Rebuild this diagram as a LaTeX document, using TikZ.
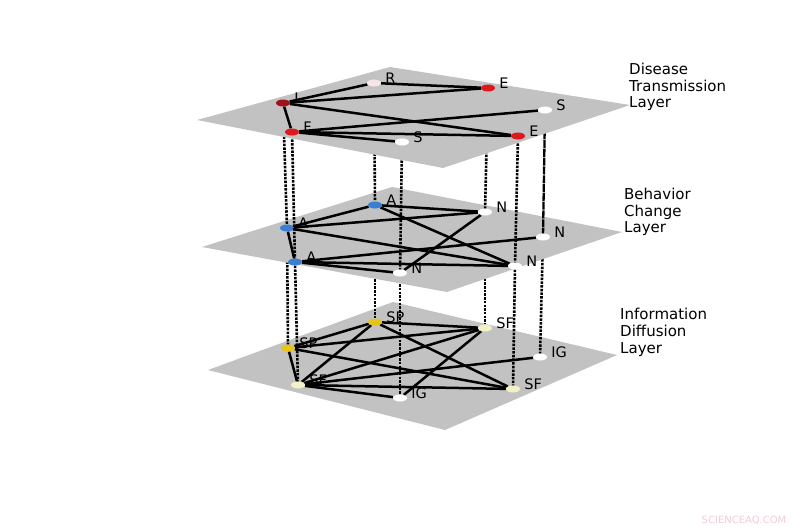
\documentclass[tikz,border=0pt]{standalone}
\usepackage{fontspec}
\setmainfont{DejaVu Sans}
\usetikzlibrary{shapes.geometric}
\definecolor{planegray}{RGB}{194,194,194}
\definecolor{nred}{RGB}{222,24,28}
\definecolor{ndred}{RGB}{160,18,26}
\definecolor{npink}{RGB}{246,230,230}
\definecolor{nblue}{RGB}{58,128,210}
\definecolor{nyellow}{RGB}{232,195,28}
\definecolor{ncream}{RGB}{244,240,200}
\definecolor{wmark}{RGB}{240,205,215}
\pgfdeclarelayer{P1}\pgfdeclarelayer{E1}\pgfdeclarelayer{N1}\pgfdeclarelayer{V12}
\pgfdeclarelayer{P2}\pgfdeclarelayer{E2}\pgfdeclarelayer{N2}\pgfdeclarelayer{V23}
\pgfdeclarelayer{P3}\pgfdeclarelayer{E3}\pgfdeclarelayer{N3}
\pgfsetlayers{main,P1,E1,N1,V12,P2,E2,N2,V23,P3,E3,N3}
\tikzset{
  vert/.style={ellipse,minimum width=14pt,minimum height=7pt,inner sep=0pt},
  lab/.style={font=\fontsize{14.5}{16}\selectfont,inner sep=0pt,yshift=5pt},
  edge/.style={line width=2.5pt,black},
  vline/.style={line width=2.6pt,black,dash pattern=on 2.5pt off 1.2pt},
  vsolid/.style={line width=2.3pt,black,dash pattern=on 8pt off 0.8pt},
  plane/.style={fill=planegray},
  layertext/.style={font=\fontsize{15}{16.7}\selectfont,align=left,anchor=north west,inner sep=0pt}
}
\begin{document}
\begin{tikzpicture}[x=1pt,y=-1pt,label distance=4pt]
\useasboundingbox (0,0) rectangle (800,530);
\fill[white] (0,0) rectangle (800,530);

% planes
\begin{pgfonlayer}{P1}
\path[plane] (208,370) -- (393,302) -- (617,355) -- (445,430) -- cycle;
\end{pgfonlayer}
\begin{pgfonlayer}{P2}
\path[plane] (202,247) -- (392,187) -- (622,232) -- (447,292) -- cycle;
\end{pgfonlayer}
\begin{pgfonlayer}{P3}
\path[plane] (197,120) -- (390,67) -- (630,105) -- (443,168) -- cycle;
\end{pgfonlayer}

% bottom layer nodes
\begin{pgfonlayer}{N1}
\node[vert,fill=nyellow,label={[lab]0:SP}] (SPt) at (375,322) {};
\node[vert,fill=ncream,label={[lab]0:SF}] (SFt) at (485,328) {};
\node[vert,fill=nyellow,label={[lab]0:SP}] (SPl) at (288,348) {};
\node[vert,fill=white,label={[lab]0:IG}] (IGr) at (540,357) {};
\node[vert,fill=ncream,label={[lab]0:SF}] (SFl) at (298,385) {};
\node[vert,fill=white,label={[lab]0:IG}] (IGb) at (400,398) {};
\node[vert,fill=ncream,label={[lab]0:SF}] (SFr) at (513,389) {};
\end{pgfonlayer}

% middle layer nodes
\begin{pgfonlayer}{N2}
\node[vert,fill=nblue,label={[lab]0:A}] (At) at (375,205) {};
\node[vert,fill=white,label={[lab]0:N}] (Nt) at (485,212) {};
\node[vert,fill=nblue,label={[lab]0:A}] (Al) at (287,228) {};
\node[vert,fill=white,label={[lab]0:N}] (Nf) at (543,237) {};
\node[vert,fill=nblue,label={[lab]0:A}] (Ab) at (295,262) {};
\node[vert,fill=white,label={[lab]0:N}] (Nb) at (400,273) {};
\node[vert,fill=white,label={[lab]0:N}] (Nr) at (515,266) {};
\end{pgfonlayer}

% top layer nodes
\begin{pgfonlayer}{N3}
\node[vert,fill=ndred,label={[lab]0:I}] (I) at (283,103) {};
\node[vert,fill=npink,label={[lab]0:R}] (R) at (374,83) {};
\node[vert,fill=nred,label={[lab]0:E}] (Et) at (488,88) {};
\node[vert,fill=white,label={[lab]0:S}] (Sr) at (545,110) {};
\node[vert,fill=nred,label={[lab]0:F}] (F) at (292,132) {};
\node[vert,fill=white,label={[lab]0:S}] (Sb) at (402,142) {};
\node[vert,fill=nred,label={[lab]0:E}] (Er) at (518,136) {};
\end{pgfonlayer}

% edges
\begin{pgfonlayer}{E1}
\draw[edge] (SPt) -- (SPl);
\draw[edge] (SPt) -- (SFt);
\draw[edge] (SPt) -- (SFl);
\draw[edge] (SPt) -- (SFr);
\draw[edge] (SPl) -- (SFt);
\draw[edge] (SPl) -- (SFr);
\draw[edge] (SPl) -- (SFl);
\draw[edge] (SFt) -- (SFl);
\draw[edge] (SFt) -- (IGb);
\draw[edge] (SFl) -- (IGr);
\draw[edge] (SFl) -- (SFr);
\draw[edge] (SFl) -- (IGb);
\end{pgfonlayer}
\begin{pgfonlayer}{E2}
\draw[edge] (At) -- (Al);
\draw[edge] (At) -- (Nt);
\draw[edge] (At) -- (Nr);
\draw[edge] (Al) -- (Nt);
\draw[edge] (Al) -- (Nr);
\draw[edge] (Al) -- (Ab);
\draw[edge] (Ab) -- (Nf);
\draw[edge] (Ab) -- (Nr);
\draw[edge] (Ab) -- (Nb);
\draw[edge] (Nt) -- (Nb);
\end{pgfonlayer}
\begin{pgfonlayer}{E3}
\draw[edge] (I) -- (R);
\draw[edge] (I) -- (Et);
\draw[edge] (R) -- (Et);
\draw[edge] (I) -- (Er);
\draw[edge] (I) -- (F);
\draw[edge] (F) -- (Sr);
\draw[edge] (F) -- (Er);
\draw[edge] (F) -- (Sb);
\end{pgfonlayer}

% inter-layer links
\begin{pgfonlayer}{V12}
\draw[vline] (Al) -- (SPl);
\draw[vline] (Ab) -- (SFl);
\draw[vline] (At) -- (SPt);
\draw[vline] (Nb) -- (IGb);
\draw[vline] (Nt) -- (SFt);
\draw[vline] (Nr) -- (SFr);
\draw[vline] (Nf) -- (IGr);
\end{pgfonlayer}
\begin{pgfonlayer}{V23}
\draw[vline] (I) -- (Al);
\draw[vline] (F) -- (Ab);
\draw[vline] (R) -- (At);
\draw[vline] (Sb) -- (Nb);
\draw[vline] (Et) -- (Nt);
\draw[vline] (Er) -- (Nr);
\draw[vsolid] (Sr) -- (Nf);
\end{pgfonlayer}

% layer titles
\node[layertext] (t3) at (629,63) {Disease\\Transmission\\Layer};
\node[layertext] (t2) at (624,188) {Behavior\\Change\\Layer};
\node[layertext] (t1) at (620,308) {Information\\Diffusion\\Layer};
\node[font=\fontsize{10}{12}\selectfont,text=wmark,inner sep=0pt] (wm) at (744,520) {SCIENCEAQ.COM};
\end{tikzpicture}
\end{document}
